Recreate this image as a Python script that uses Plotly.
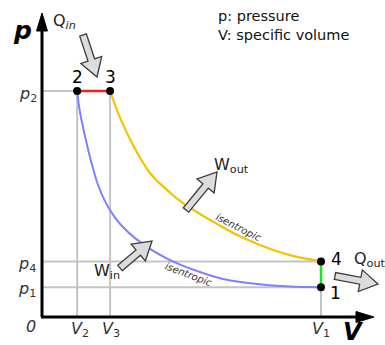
import math
import plotly.graph_objects as go

# ---------------- data (normalised: V1 = 1, p2 = 1) ----------------
V1, V2, V3 = 1.0, 0.126, 0.244
p1, p2, p4 = 0.132, 1.0, 0.246

# isentropic compression 1 -> 2
comp_V = [0.126, 0.136, 0.154, 0.172, 0.201, 0.237, 0.290, 0.376, 0.459, 0.566, 0.649, 0.771, 0.889, 1.0]
comp_p = [1.0, 0.907, 0.801, 0.708, 0.584, 0.487, 0.398, 0.310, 0.252, 0.199, 0.168, 0.146, 0.135, 0.132]
# isentropic expansion 3 -> 4
exp_V = [0.244, 0.280, 0.326, 0.387, 0.448, 0.505, 0.566, 0.627, 0.685, 0.781, 0.889, 1.0]
exp_p = [1.0, 0.881, 0.761, 0.637, 0.562, 0.504, 0.456, 0.412, 0.372, 0.319, 0.274, 0.246]

state_labels = ["1", "2", "3", "4"]
state_V = [V1, V2, V3, V1]
state_p = [p1, p2, p2, p4]

# ---------------- pixel <-> data helpers (layout only) ----------------
W, H = 385, 345
X0, KX = 42.0, 279.0
Y0, KY = 317.0, 226.0


def dx(px):
    return (px - X0) / KX


def dy(py):
    return (Y0 - py) / KY


fig = go.Figure()

GRID = "#c4c4c4"
# helper grid lines
fig.add_trace(go.Scatter(x=[0, V2], y=[p2, p2], mode="lines", line=dict(color=GRID, width=2), hoverinfo="skip"))
fig.add_trace(go.Scatter(x=[0, V1], y=[p4, p4], mode="lines", line=dict(color=GRID, width=2), hoverinfo="skip"))
fig.add_trace(go.Scatter(x=[0, V1], y=[p1, p1], mode="lines", line=dict(color=GRID, width=2), hoverinfo="skip"))
fig.add_trace(go.Scatter(x=[V2, V2], y=[0, p2], mode="lines", line=dict(color=GRID, width=2), hoverinfo="skip"))
fig.add_trace(go.Scatter(x=[V3, V3], y=[0, p2], mode="lines", line=dict(color=GRID, width=2), hoverinfo="skip"))
fig.add_trace(go.Scatter(x=[V1, V1], y=[0, p4], mode="lines", line=dict(color=GRID, width=2), hoverinfo="skip"))

# process curves
fig.add_trace(go.Scatter(x=comp_V, y=comp_p, mode="lines", line=dict(color="#8080ff", width=2, shape="spline"), hoverinfo="skip"))
fig.add_trace(go.Scatter(x=exp_V, y=exp_p, mode="lines", line=dict(color="#f0c400", width=2.2, shape="spline"), hoverinfo="skip"))
fig.add_trace(go.Scatter(x=[V2, V3], y=[p2, p2], mode="lines", line=dict(color="#ff1a1a", width=2.5), hoverinfo="skip"))
fig.add_trace(go.Scatter(x=[V1, V1], y=[p4, p1], mode="lines", line=dict(color="#22e022", width=2.5), hoverinfo="skip"))

# state points
fig.add_trace(go.Scatter(x=state_V, y=state_p, mode="markers", marker=dict(color="black", size=8), hoverinfo="skip"))

shapes = []
# axes
shapes.append(dict(type="line", xref="x", yref="y", x0=0, y0=0, x1=0, y1=dy(28), line=dict(color="black", width=3)))
shapes.append(dict(type="line", xref="x", yref="y", x0=dx(41), y0=0, x1=dx(360), y1=0, line=dict(color="black", width=3)))


def path_from_px(pts):
    s = "M " + " L ".join(f"{dx(x):.5f},{dy(y):.5f}" for x, y in pts) + " Z"
    return s


# axis arrow heads
shapes.append(dict(type="path", xref="x", yref="y", path=path_from_px([(42, 13), (36.5, 31), (47.5, 31)]),
                   fillcolor="black", line=dict(color="black", width=1)))
shapes.append(dict(type="path", xref="x", yref="y", path=path_from_px([(374, 317), (356, 311.5), (356, 322.5)]),
                   fillcolor="black", line=dict(color="black", width=1)))


def hollow_arrow(tail, tip, sw=7.0, hw=22.0, hl=18.0):
    ux, uy = tip[0] - tail[0], tip[1] - tail[1]
    L = math.hypot(ux, uy)
    ux, uy = ux / L, uy / L
    nx, ny = -uy, ux
    bx, by = tip[0] - ux * hl, tip[1] - uy * hl
    pts = [
        (tail[0] + nx * sw / 2, tail[1] + ny * sw / 2),
        (bx + nx * sw / 2, by + ny * sw / 2),
        (bx + nx * hw / 2, by + ny * hw / 2),
        tip,
        (bx - nx * hw / 2, by - ny * hw / 2),
        (bx - nx * sw / 2, by - ny * sw / 2),
        (tail[0] - nx * sw / 2, tail[1] - ny * sw / 2),
    ]
    return dict(type="path", xref="x", yref="y", path=path_from_px(pts),
                fillcolor="#dcdcdc", line=dict(color="#3a3a3a", width=1.3))


shapes.append(hollow_arrow((83, 35), (97, 77)))       # Q_in
shapes.append(hollow_arrow((186, 210), (217, 172)))   # W_out
shapes.append(hollow_arrow((120, 268), (152, 241)))   # W_in
shapes.append(hollow_arrow((335, 276), (378, 284)))   # Q_out

annotations = []


def txt(px, py, text, size, color="#222", family="DejaVu Sans", angle=0, xanchor="center"):
    annotations.append(dict(x=dx(px), y=dy(py), xref="x", yref="y", text=text, showarrow=False,
                            font=dict(size=size, color=color, family=family), textangle=angle,
                            xanchor=xanchor, yanchor="middle"))


# axis titles
txt(22, 30, "<b><i>p</i></b>", 25, color="black")
txt(353, 332, "<b><i>V</i></b>", 24, color="black")
txt(31, 326, "<i>0</i>", 16, color="#333")

# tick-like labels
txt(80, 329, "<i>V</i><sub>2</sub>", 16, color="#333")
txt(111, 329, "<i>V</i><sub>3</sub>", 16, color="#333")
txt(321, 329, "<i>V</i><sub>1</sub>", 16, color="#333")
txt(28, 94, "<i>p</i><sub>2</sub>", 16, color="#333")
txt(27, 264, "<i>p</i><sub>4</sub>", 16, color="#333")
txt(27, 289, "<i>p</i><sub>1</sub>", 16, color="#333")

# state numbers
for lab, V, p in zip(state_labels, state_V, state_p):
    off = {"1": (14, 6), "2": (0, -14), "3": (0, -14), "4": (15, -2)}[lab]
    px = X0 + V * KX + off[0]
    py = Y0 - p * KY + off[1]
    txt(px, py, lab, 17, color="black")

# heat / work labels
txt(51, 21, "Q<sub><i>in</i></sub>", 16, xanchor="left")
txt(212, 165, "W<sub>out</sub>", 16, xanchor="left")
txt(92, 271, "W<sub>in</sub>", 16, xanchor="left")
txt(352, 259, "Q<sub>out</sub>", 16, xanchor="left")

# process labels
txt(239, 227, "<i>isentropic</i>", 10, color="#333", angle=27)
txt(189, 274, "<i>isentropic</i>", 10, color="#333", angle=21)

# legend-like notes
txt(216, 16, "p: pressure", 14.5, color="#111", xanchor="left")
txt(216, 35, "V: specific volume", 14.5, color="#111", xanchor="left")

fig.update_layout(
    width=W, height=H,
    margin=dict(l=0, r=0, t=0, b=0, pad=0),
    paper_bgcolor="white", plot_bgcolor="white",
    showlegend=False,
    xaxis=dict(range=[dx(0), dx(W)], visible=False, fixedrange=True),
    yaxis=dict(range=[dy(H), dy(0)], visible=False, fixedrange=True),
    shapes=shapes,
    annotations=annotations,
)

fig.write_html("out.html", config={"displayModeBar": False},
               post_script="document.body.style.margin='0';document.body.style.overflow='hidden';")
